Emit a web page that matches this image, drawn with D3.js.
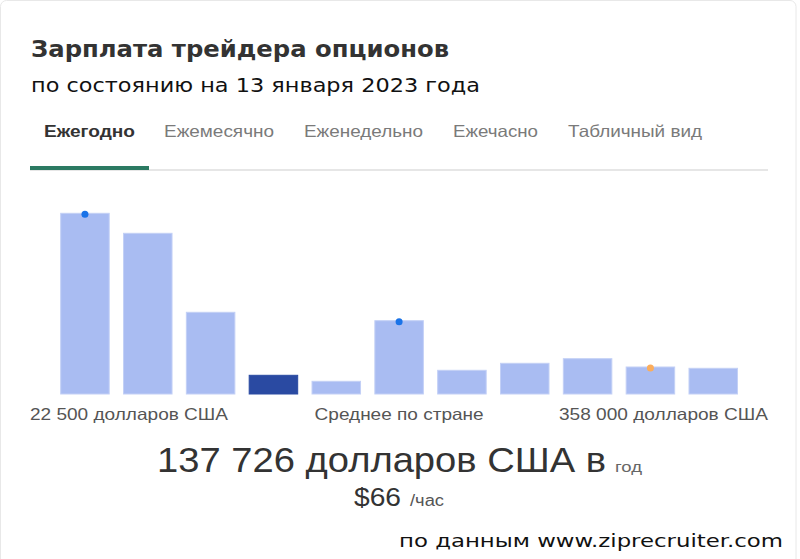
<!DOCTYPE html>
<html><head><meta charset="utf-8">
<script src="https://cdn.jsdelivr.net/npm/d3@7"></script>
<style>
html,body{margin:0;padding:0;background:#fff;}
svg{display:block;}
</style></head>
<body>
<svg id="chart" width="800" height="559"></svg>
<script>
// ---- data ----
const bins = ["b1","b2","b3","b4","b5","b6","b7","b8","b9","b10","b11"];
const counts = [180.7, 160.7, 81.7, 18.7, 12.7, 73.3, 23.7, 30.7, 35.3, 27, 25.7];
const highlightBin = "b4";
const blueDots = ["b1","b6"];
const orangeDots = ["b10"];
const tabs = ["Ежегодно","Ежемесячно","Еженедельно","Ежечасно","Табличный вид"];
const axisLabels = ["22 500 долларов США","Среднее по стране","358 000 долларов США"];
const title = "Зарплата трейдера опционов";
const subtitle = "по состоянию на 13 января 2023 года";

const svg = d3.select("#chart");
const sans = "'Liberation Sans', Arial, sans-serif";
const dv = "'DejaVu Sans', Verdana, sans-serif";

// card
svg.append("rect").attr("x",0.5).attr("y",0.5).attr("width",795.5).attr("height",570)
  .attr("rx",6).attr("fill","#fff").attr("stroke","#e8e8e8");

function txt(s, x, y, opts){
  const t = svg.append("text").attr("x",x).attr("y",y).text(s)
    .attr("font-family",opts.family||sans).attr("font-size",opts.size)
    .attr("fill",opts.fill||"#333").attr("font-weight",opts.weight||"normal");
  if(opts.anchor) t.attr("text-anchor",opts.anchor);
  if(opts.len) t.attr("textLength",opts.len).attr("lengthAdjust","spacingAndGlyphs");
  return t;
}

txt(title, 31, 57, {family:dv, size:23, weight:"bold", fill:"#333", len:418});
txt(subtitle, 31, 92, {family:dv, size:19, fill:"#111", len:449});

// tabs
const tabX = [44,164,304,453,568];
const tabW = [91,110,119,85,134];
tabs.forEach((t,i)=>{
  txt(t, tabX[i], 137, {size:16.5, weight: i===0?"bold":"normal", fill: i===0?"#333":"#7a7a7a", len:tabW[i]});
});
svg.append("rect").attr("x",30).attr("y",169).attr("width",738).attr("height",2).attr("fill","#e6e6e6");
svg.append("rect").attr("x",30).attr("y",166).attr("width",119).attr("height",4).attr("fill","#2b7a62");

// bars
const x = d3.scaleBand().domain(bins).range([60.7, 737.5]).paddingInner(0.228).paddingOuter(0);
const y = d3.scaleLinear().domain([0, 180.7]).range([394, 213.3]);

svg.append("g").selectAll("rect").data(bins).join("rect")
  .attr("x", d=>x(d)).attr("width", x.bandwidth())
  .attr("y", (d,i)=>y(counts[i])).attr("height",(d,i)=>y(0)-y(counts[i]))
  .attr("fill", d=> d===highlightBin ? "#2a4aa2" : "#a9bcf2")
  .attr("stroke", d=> d===highlightBin ? "#2a4aa2" : "#c3d0f6").attr("stroke-width",1);

const dotY = d => y(counts[bins.indexOf(d)]) + 1;
svg.append("g").selectAll("circle").data(blueDots).join("circle")
  .attr("cx", d=>x(d)+x.bandwidth()/2).attr("cy", dotY).attr("r",3.5).attr("fill","#1a73e8");
svg.append("g").selectAll("circle").data(orangeDots).join("circle")
  .attr("cx", d=>x(d)+x.bandwidth()/2).attr("cy", dotY).attr("r",3.5).attr("fill","#fbad5c");

// bottom labels
txt(axisLabels[0], 30, 420, {size:16.5, fill:"#555", len:198});
txt(axisLabels[1], x("b6")+x.bandwidth()/2, 420, {size:16.5, fill:"#555", anchor:"middle", len:169});
txt(axisLabels[2], 768, 420, {size:16.5, fill:"#555", anchor:"end", len:209});

// summary
txt("137 726 долларов США в", 157, 472, {size:35, fill:"#333", len:449});
txt("год", 615, 472, {size:15.5, fill:"#666", len:27});
txt("$66", 354, 506, {size:25, fill:"#333", len:47});
txt("/час", 410, 506, {size:16, fill:"#555", len:34});
txt("по данным www.ziprecruiter.com", 399, 547, {family:dv, size:18, fill:"#111", len:384});
</script>
</body></html>
